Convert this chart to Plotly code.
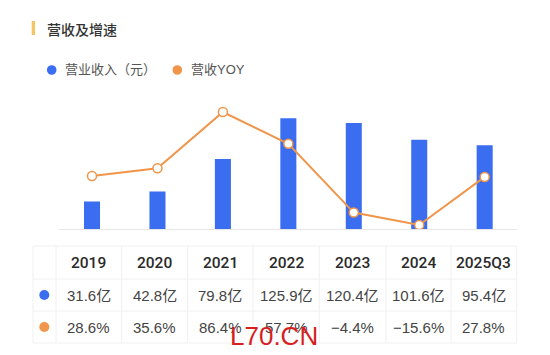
import plotly.graph_objects as go

# ---- data ----
years = ["2019", "2020", "2021", "2022", "2023", "2024", "2025Q3"]
revenue_yi = [31.6, 42.8, 79.8, 125.9, 120.4, 101.6, 95.4]
yoy_pct = [28.6, 35.6, 86.4, 57.7, -4.4, -15.6, 27.8]

title_text = "营收及增速"
legend_names = ["营业收入（元）", "营收YOY"]
watermark = "L70.CN"

BLUE = "#3A6DF0"
ORANGE = "#F0954A"
W, H = 550, 355

def px(x):
    return x / W

def py(y):
    return 1 - y / H

LAT = "Liberation Sans, Noto Sans CJK SC, sans-serif"
HEAD = "Roboto, Liberation Sans, sans-serif"
CJK = "Noto Sans CJK SC, sans-serif"

fig = go.Figure()
fig.add_trace(go.Bar(
    x=years, y=revenue_yi, marker=dict(color=BLUE, line=dict(width=0)),
    width=0.245, showlegend=False, hoverinfo="skip",
))
fig.add_trace(go.Scatter(
    x=years, y=yoy_pct, yaxis="y2", mode="lines+markers",
    line=dict(color=ORANGE, width=2),
    marker=dict(size=9, color="white", line=dict(color=ORANGE, width=1.5)),
    showlegend=False, hoverinfo="skip",
))

shapes = []
annotations = []

# title
shapes.append(dict(type="rect", xref="paper", yref="paper",
                   x0=px(31.7), x1=px(35), y0=py(35), y1=py(21),
                   fillcolor="#F5C463", line=dict(width=0)))
annotations.append(dict(text=title_text, xref="paper", yref="paper",
                        x=px(45), y=py(28.5), xanchor="left", yanchor="middle",
                        showarrow=False,
                        font=dict(family=CJK, size=14, color="#333333", weight=500)))

# legend
leg = [(51.7, 63, BLUE, legend_names[0]), (177.3, 189, ORANGE, legend_names[1])]
for cx, tx, col, name in leg:
    r = 4.8
    shapes.append(dict(type="circle", xref="paper", yref="paper",
                       x0=px(cx - r), x1=px(cx + r), y0=py(70 + r), y1=py(70 - r),
                       fillcolor=col, line=dict(width=0)))
    annotations.append(dict(text=name, xref="paper", yref="paper",
                            x=px(tx), y=py(70), xanchor="left", yanchor="middle",
                            showarrow=False,
                            font=dict(family=LAT, size=13, color="#555555")))

# table
col_edges = [33, 56, 121.7, 187.7, 253, 319.3, 386, 451, 516.7]
row_edges = [246, 279, 311, 343]
GRID = "#F0F0F0"
for xe in col_edges:
    shapes.append(dict(type="line", xref="paper", yref="paper",
                       x0=px(xe), x1=px(xe), y0=py(row_edges[0]), y1=py(row_edges[-1]),
                       line=dict(color=GRID, width=1)))
for ye in row_edges:
    shapes.append(dict(type="line", xref="paper", yref="paper",
                       x0=px(col_edges[0]), x1=px(col_edges[-1]), y0=py(ye), y1=py(ye),
                       line=dict(color=GRID, width=1)))

row_centers = [(row_edges[i] + row_edges[i + 1]) / 2 for i in range(3)]
for i, yr in enumerate(years):
    cx = (col_edges[i + 1] + col_edges[i + 2]) / 2
    annotations.append(dict(text=yr, xref="paper", yref="paper", x=px(cx), y=py(row_centers[0]),
                            xanchor="center", yanchor="middle", showarrow=False,
                            font=dict(family=HEAD, size=15.5, color="#2A2A2A", weight=500)))
    annotations.append(dict(text=f"{revenue_yi[i]:.1f}亿", xref="paper", yref="paper",
                            x=px(cx), y=py(row_centers[1]),
                            xanchor="center", yanchor="middle", showarrow=False,
                            font=dict(family=LAT, size=15, color="#444444")))
    annotations.append(dict(text=f"{yoy_pct[i]:.1f}%".replace("-", "−"), xref="paper", yref="paper",
                            x=px(cx), y=py(row_centers[2]),
                            xanchor="center", yanchor="middle", showarrow=False,
                            font=dict(family=LAT, size=15, color="#444444")))

for rc, col in [(row_centers[1], BLUE), (row_centers[2], ORANGE)]:
    r = 5
    shapes.append(dict(type="circle", xref="paper", yref="paper",
                       x0=px(44.3 - r), x1=px(44.3 + r), y0=py(rc + r), y1=py(rc - r),
                       fillcolor=col, line=dict(width=0)))

# watermark
annotations.append(dict(text=watermark, xref="paper", yref="paper",
                        x=px(274), y=py(336), xanchor="center", yanchor="middle",
                        showarrow=False,
                        font=dict(family=LAT, size=26, color="#D81E1E")))

fig.update_layout(
    width=W, height=H,
    margin=dict(l=0, r=0, t=0, b=0),
    paper_bgcolor="white", plot_bgcolor="white",
    xaxis=dict(domain=[px(59.3), px(517.4)], showgrid=False, showticklabels=False,
               showline=True, linecolor="#E6E6E6", linewidth=1, ticks="", zeroline=False,
               fixedrange=True),
    yaxis=dict(domain=[py(229.3), py(97)], range=[0, 150], visible=False, fixedrange=True),
    yaxis2=dict(overlaying="y", range=[-19.5, 100], visible=False, fixedrange=True),
    bargap=0.75,
    shapes=shapes,
    annotations=annotations,
    showlegend=False,
)

fig.write_html("out.html", config={"displayModeBar": False},
               post_script="document.body.style.margin='0';document.body.style.overflow='hidden';")
